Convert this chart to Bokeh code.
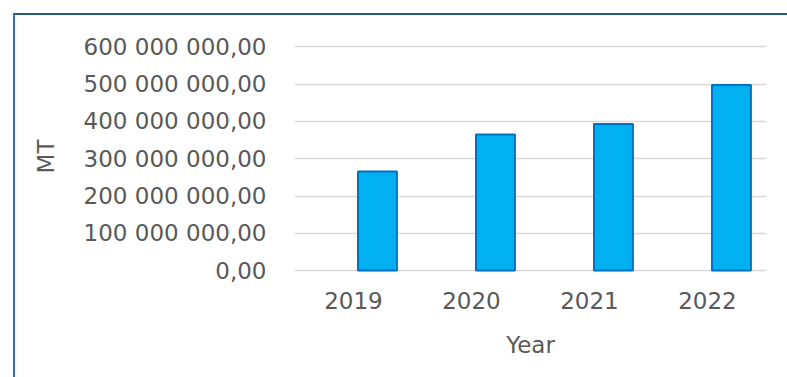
from bokeh.plotting import figure
from bokeh.models import FactorRange, Range1d, FixedTicker, InlineStyleSheet
from bokeh.transform import dodge
from bokeh.embed import file_html
from bokeh.resources import INLINE

# ---- data ----
years = ["2019", "2020", "2021", "2022"]
values = [266e6, 365e6, 393e6, 498e6]
y_ticks = [0, 100e6, 200e6, 300e6, 400e6, 500e6, 600e6]
y_tick_labels = ["0,00", "100 000 000,00", "200 000 000,00", "300 000 000,00",
                 "400 000 000,00", "500 000 000,00", "600 000 000,00"]
x_title = "Year"
y_title = "MT"

FONT = "DejaVu Sans"
TXT = "#595959"

border_css = InlineStyleSheet(css="""
:host { position: relative; }
:host::after {
  content: "";
  position: absolute;
  left: 13px; top: 13px; right: -20px; bottom: -20px;
  border-top: 2px solid #2B5A78;
  border-left: 2px solid #2E6FBF;
  pointer-events: none;
  z-index: 100;
}
""")

p = figure(
    x_range=FactorRange(*years, range_padding=0),
    y_range=Range1d(-16e6, 628e6),
    frame_width=472, frame_height=240,
    min_border_left=294, min_border_right=21,
    min_border_top=36, min_border_bottom=101,
    output_backend="svg", toolbar_location=None,
    background_fill_color="white", border_fill_color="white",
    stylesheets=[border_css],
)
p.outline_line_color = None

p.vbar(x=dodge("x", 0.203, range=p.x_range), top="top", width=0.33,
       source=dict(x=years, top=values),
       fill_color="#00B0F0", line_color="#0070C0", line_width=2)

# y axis
ya = p.yaxis[0]
ya.ticker = FixedTicker(ticks=y_ticks)
ya.major_label_overrides = {t: l for t, l in zip(y_ticks, y_tick_labels)}
ya.axis_line_color = None
ya.major_tick_line_color = None
ya.minor_tick_line_color = None
ya.major_tick_out = 0
ya.major_tick_in = 0
ya.major_label_standoff = 28
ya.major_label_text_font = FONT
ya.major_label_text_font_size = "23px"
ya.major_label_text_color = TXT
ya.axis_label = y_title
ya.axis_label_text_font = FONT
ya.axis_label_text_font_size = "23px"
ya.axis_label_text_font_style = "normal"
ya.axis_label_text_color = TXT
ya.axis_label_standoff = 22

# x axis
xa = p.xaxis[0]
xa.axis_line_color = None
xa.major_tick_line_color = None
xa.major_tick_out = 0
xa.major_tick_in = 0
xa.major_label_standoff = 15
xa.major_label_text_font = FONT
xa.major_label_text_font_size = "23px"
xa.major_label_text_color = TXT
xa.axis_label = x_title
xa.axis_label_text_font = FONT
xa.axis_label_text_font_size = "23px"
xa.axis_label_text_font_style = "normal"
xa.axis_label_text_color = TXT
xa.axis_label_standoff = 20

p.xgrid.grid_line_color = None
p.ygrid.grid_line_color = "#D9D9D9"
p.ygrid.grid_line_width = 1.5

open("out.html", "w").write(file_html(p, INLINE))
